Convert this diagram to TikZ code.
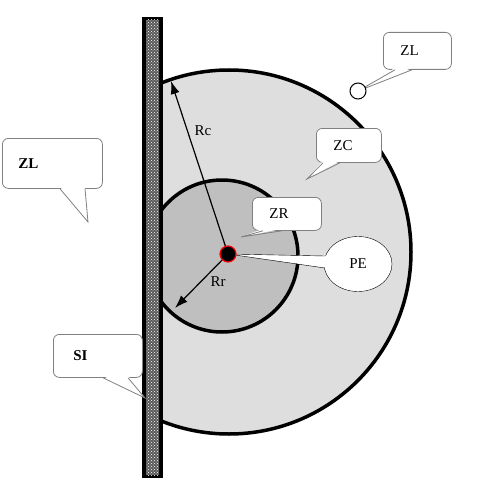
\documentclass[tikz,border=0pt]{standalone}
\usepackage{fontspec}
\setmainfont{Liberation Serif}
\usetikzlibrary{shapes.geometric,calc,patterns,arrows.meta}

\begin{document}
\begin{tikzpicture}[
    x=1pt, y=-1pt,
    lbl/.style={font=\fontsize{15}{18}\selectfont},
    bubble/.style={draw=gray, thick, fill=white, rounded corners=6pt, inner xsep=17pt, inner ysep=0pt, align=left, anchor=north west, lbl},
    tail/.style={draw=gray, thick},
    rad/.style={-{Latex[length=13pt,width=9pt]}, line width=1.2pt},
    zone/.style={line width=3.5pt},
]
    \useasboundingbox (0,0) rectangle (480,495);

    % Zones
    \begin{scope}
        \clip (160,0) rectangle (480,495);
        \draw[zone, fill=gray!26] (229,252) circle[radius=182];
        \draw[zone, fill=gray!50] (222,256) circle[radius=76];
    \end{scope}

    % Wall
    \fill[black] (142,17) rectangle (163,478);
    \fill[black!65] (146,20) rectangle (159,475);
    \fill[pattern=crosshatch dots, pattern color=white] (146,20) rectangle (159,475);

    % Radii
    \coordinate (c) at (228,254);
    \coordinate (rctip) at (171,81);
    \coordinate (rrtip) at (175,308);
    \draw[rad] (c) -- (rctip);
    \draw[rad] (c) -- (rrtip);
    \node[lbl] (rc) at (203,131) {Rc};
    \node[lbl] (rr) at (218,282) {Rr};

    % PE
    \node[ellipse, draw, thin, fill=white, minimum width=68, minimum height=55, inner sep=0, lbl] (pe) at (358,264) {PE};
    \fill[white] (c) -- ($(pe.west)+(4,-8)$) -- ($(pe.west)+(4,4)$) -- cycle;
    \draw[thin] (c) -- ($(pe.west)+(1,-8)$);
    \draw[thin] (c) -- ($(pe.west)+(1,4)$);
    \node[circle, fill=black, draw=red, line width=1.2pt, minimum size=16, inner sep=0] (dot) at (c) {};

    % ZL (top)
    \node[bubble, text width=34, minimum height=37] (zltop) at (383,32) {ZL};
    \coordinate (zlpt) at (358,91);
    \fill[white] ($(zltop.south west)+(12,-2)$) -- (zlpt) -- ($(zltop.south west)+(29,-2)$) -- cycle;
    \draw[tail] ($(zltop.south west)+(12,0)$) -- (zlpt) -- ($(zltop.south west)+(29,0)$);
    \node[circle, draw, line width=1pt, fill=white, minimum size=16, inner sep=0] (zlc) at (zlpt) {};

    % ZC
    \node[bubble, text width=31, minimum height=34] (zc) at (316,128) {ZC};
    \coordinate (zcpt) at (307,179);
    \fill[white] ($(zc.south west)+(7,-2)$) -- (zcpt) -- ($(zc.south west)+(24,-2)$) -- cycle;
    \draw[tail] ($(zc.south west)+(7,0)$) -- (zcpt) -- ($(zc.south west)+(24,0)$);

    % ZR
    \node[bubble, text width=35, minimum height=33] (zr) at (252,197) {ZR};
    \coordinate (zrpt) at (241,237);
    \fill[white] ($(zr.south west)+(11,-2)$) -- (zrpt) -- ($(zr.south west)+(30,-2)$) -- cycle;
    \draw[tail] ($(zr.south west)+(11,0)$) -- (zrpt) -- ($(zr.south west)+(30,0)$);

    % ZL (left)
    \node[bubble, inner xsep=16pt, text width=68, minimum height=50, font=\fontsize{15}{18}\selectfont\bfseries] (zlleft) at (2,138) {ZL};
    \coordinate (zllpt) at (88,222);
    \fill[white] ($(zlleft.south west)+(58,-2)$) -- (zllpt) -- ($(zlleft.south west)+(83,-2)$) -- cycle;
    \draw[tail] ($(zlleft.south west)+(58,0)$) -- (zllpt) -- ($(zlleft.south west)+(83,0)$);

    % SI
    \node[bubble, inner xsep=20pt, text width=49, minimum height=43, font=\fontsize{15}{18}\selectfont\bfseries] (si) at (53,334) {SI};
    \coordinate (sipt) at (145,398);
    \fill[white] ($(si.south west)+(50,-2)$) -- (sipt) -- ($(si.south west)+(75,-2)$) -- cycle;
    \draw[tail] ($(si.south west)+(50,0)$) -- (sipt) -- ($(si.south west)+(75,0)$);
\end{tikzpicture}
\end{document}
